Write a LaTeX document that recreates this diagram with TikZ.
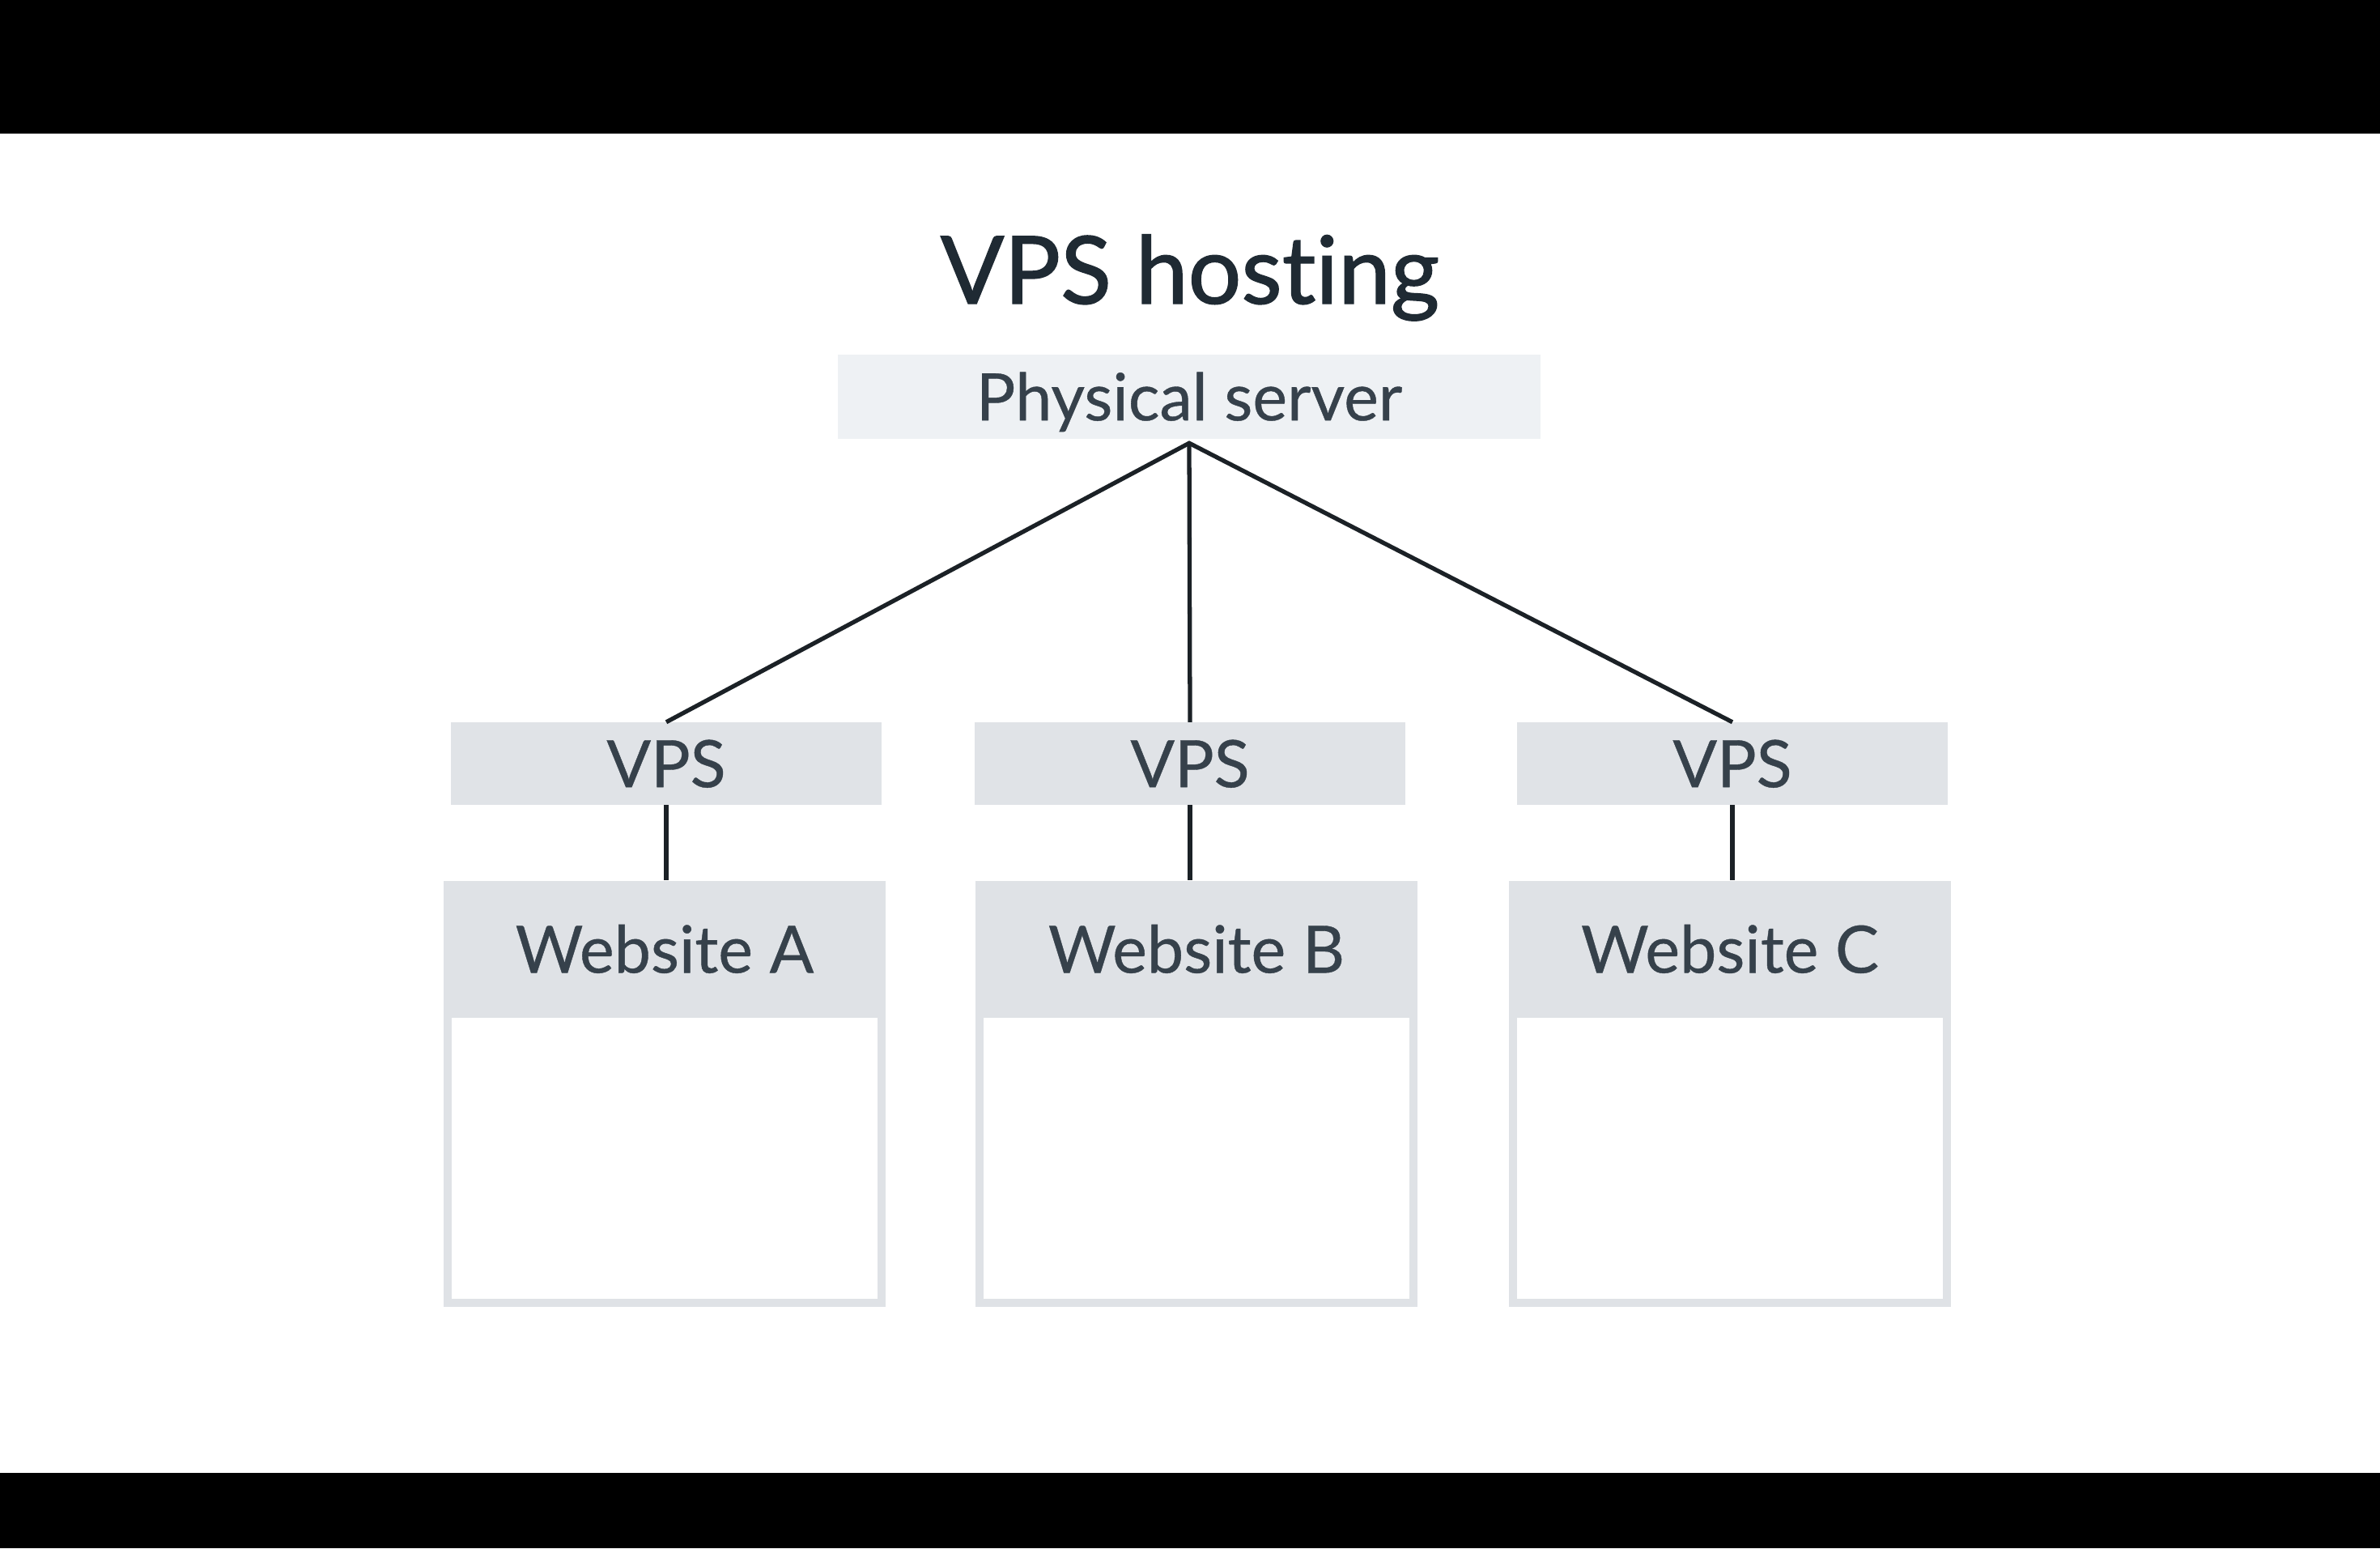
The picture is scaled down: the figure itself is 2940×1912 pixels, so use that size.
\documentclass[tikz,border=0pt]{standalone}
\usepackage{fontspec}
\setmainfont{Lato}[Ligatures=NoCommon]
\newfontfamily\titlefont{Lato}[Ligatures=NoCommon,FakeBold=1.2]
\newfontfamily\labelfont{Lato}[Ligatures=NoCommon,FakeBold=0.5]
\definecolor{titlec}{HTML}{1F2A33}
\definecolor{textc}{HTML}{36414B}
\definecolor{psfill}{HTML}{EEF1F4}
\definecolor{vpsfill}{HTML}{E0E3E7}
\definecolor{webfill}{HTML}{DFE2E6}
\definecolor{linec}{HTML}{1B2126}
\tikzset{
  lbl/.style={text=textc, font=\labelfont\fontsize{23}{26}\selectfont, text height=16.6pt, text depth=0pt},
  psbox/.style={lbl, rectangle, fill=psfill, minimum width=86.8mm, minimum height=10.3mm, inner sep=0pt},
  vpsbox/.style={lbl, rectangle, fill=vpsfill, minimum width=53.2mm, minimum height=10.1mm, inner sep=0pt},
  webbox/.style={rectangle, fill=webfill, minimum width=54.6mm, minimum height=52.6mm, inner sep=0pt},
  weblabel/.style={lbl, inner sep=0pt},
  conn/.style={draw=linec, line width=1.5pt},
}
\begin{document}
\begin{tikzpicture}[x=0.01cm, y=-0.01cm]
\useasboundingbox (0,0) rectangle (2940,1912);
\fill[white] (0,0) rectangle (2940,1912);
\fill[black] (0,0) rectangle (2940,165);
\fill[black] (0,1819) rectangle (2940,1912);

\node[anchor=base, text=titlec, font=\titlefont\fontsize{33}{38}\selectfont, inner sep=0pt] (title) at (1470,375) {VPS hosting};

\node[psbox] (ps) at (1469,490) {Physical server};

\node[vpsbox] (vpsA) at (823,943) {VPS};
\node[vpsbox] (vpsB) at (1470,943) {VPS};
\node[vpsbox] (vpsC) at (2140,943) {VPS};

\node[webbox] (webA) at (821,1351) {};
\node[webbox] (webB) at (1478,1351) {};
\node[webbox] (webC) at (2137,1351) {};

\foreach \w in {webA,webB,webC}{
  \fill[white] ([xshift=1.1mm, yshift=-17mm]\w.north west) rectangle ([xshift=-1.1mm, yshift=1.1mm]\w.south east);
}

\node[weblabel] (labA) at ([yshift=-8.5mm]webA.north) {Website A};
\node[weblabel] (labB) at ([yshift=-8.5mm]webB.north) {Website B};
\node[weblabel] (labC) at ([yshift=-8.5mm]webC.north) {Website C};

\coordinate (apex) at ([yshift=-0.5mm]ps.south);
\draw[conn] (vpsA.north) -- (apex) -- (vpsC.north);
\draw[conn] (apex) -- (vpsB.north);

\draw[conn] (vpsA.south) -- (vpsA.south |- webA.north);
\draw[conn] (vpsB.south) -- (vpsB.south |- webB.north);
\draw[conn] (vpsC.south) -- (vpsC.south |- webC.north);
\end{tikzpicture}
\end{document}
